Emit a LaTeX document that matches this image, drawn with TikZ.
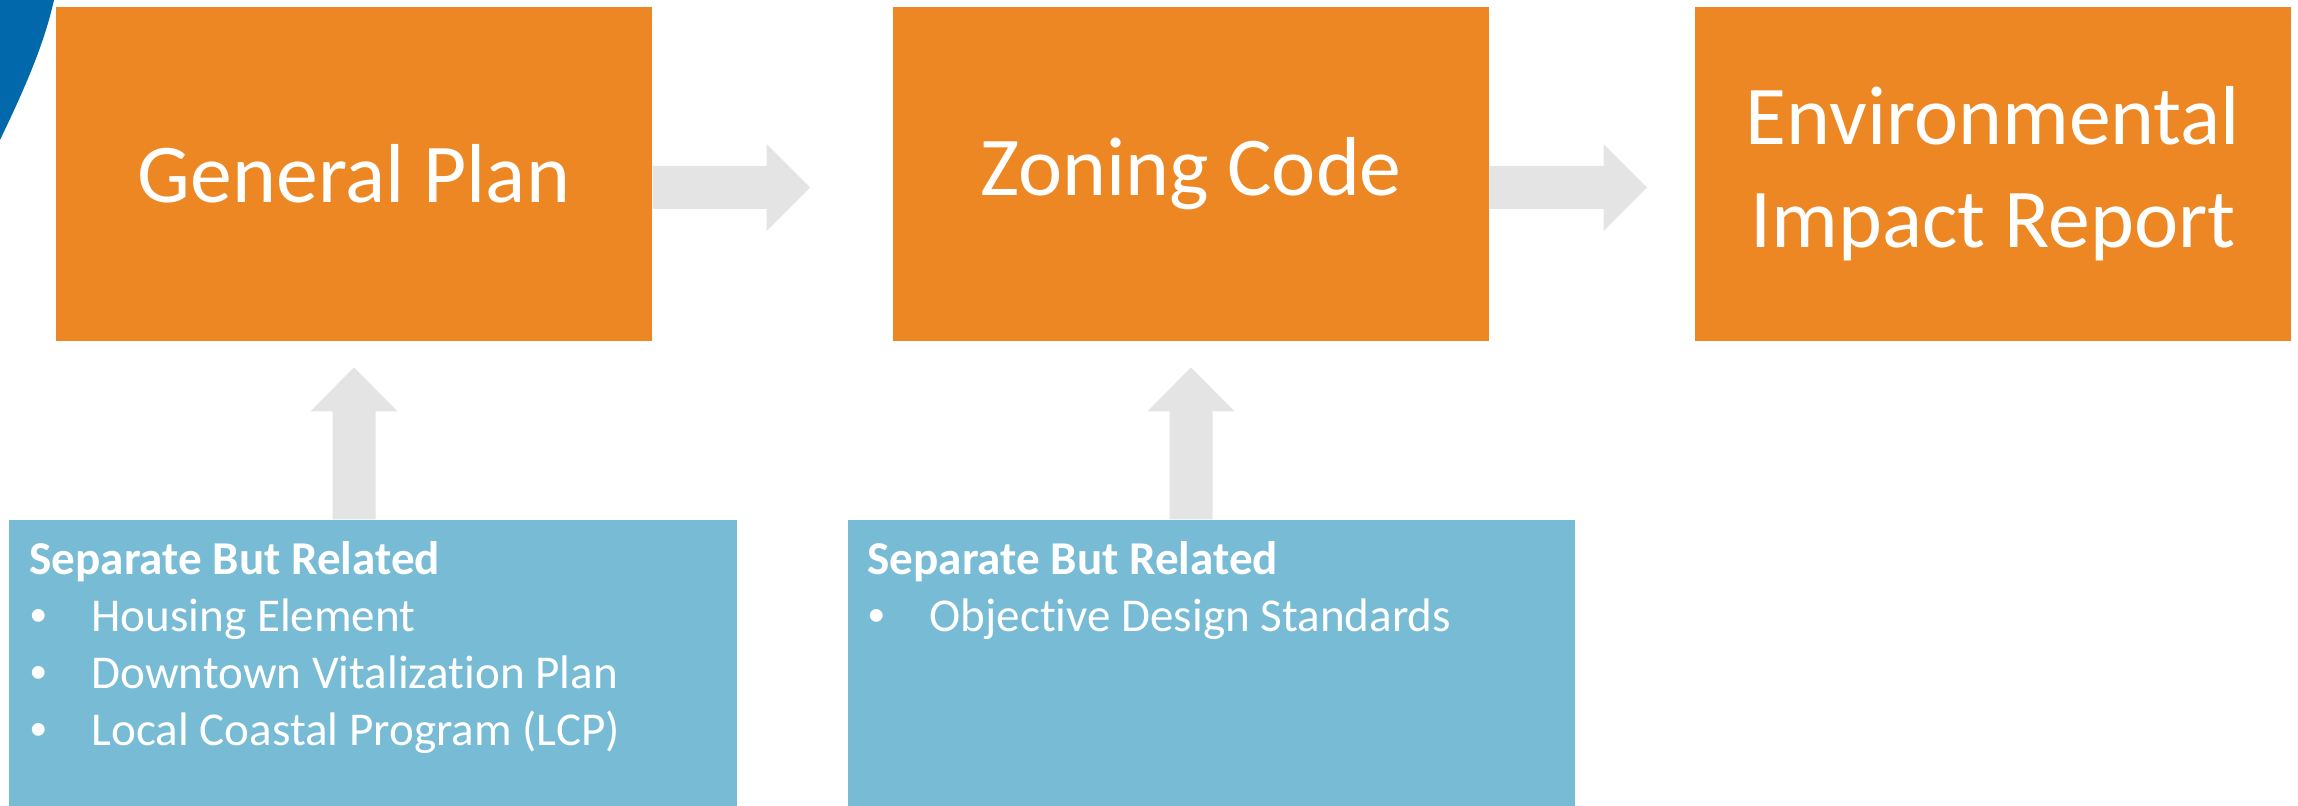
\documentclass[tikz,border=0pt]{standalone}
\usepackage{fontspec}
\setmainfont{Carlito}[Ligatures=NoCommon]
\newfontfamily\bulletfont{Liberation Sans}
\usepackage{tikz}
\usetikzlibrary{calc}
\definecolor{planorange}{HTML}{ED8723}
\definecolor{relblue}{HTML}{77BBD5}
\definecolor{arrowgray}{HTML}{E4E4E4}
\definecolor{slideblue}{HTML}{0068AB}
\newcommand{\tikzArrowRight}[1]{
  \fill[arrowgray] ($(#1.east)+(0,0.08)$) -- ++(1.14,0) -- ++(0,0.22) -- ++(0.435,-0.435) -- ++(-0.435,-0.435) -- ++(0,0.22) -- ++(-1.14,0) -- cycle;
}
\newcommand{\tikzArrowUp}[2]{
  \fill[arrowgray] ($(#2.south |- #1.north)+(-0.215,0)$) -- ++(0,1.08) -- ++(-0.22,0) -- ++(0.435,0.44) -- ++(0.435,-0.44) -- ++(-0.22,0) -- ++(0,-1.08) -- cycle;
}
\newcommand{\relItem}{\makebox[0.61cm][l]{\bulletfont\textbullet}}
\begin{document}
\begin{tikzpicture}[
  planbox/.style={fill=planorange,text=white,inner sep=0pt,minimum width=5.96cm,minimum height=3.34cm,align=center,font=\fontsize{23.8}{29.2}\selectfont},
  relbox/.style={fill=relblue,inner sep=0pt,minimum width=7.27cm,minimum height=2.86cm},
  reltext/.style={text=white,inner sep=0pt,anchor=base west,font=\fontsize{13.4}{16.2}\selectfont}]
  \useasboundingbox (0,0) rectangle (22.98,-8.06);

  \fill[slideblue] (0,0) -- (0.54,0) .. controls (0.44,-0.45) and (0.24,-0.9) .. (0,-1.4) -- cycle;

  \node [planbox] (gp)  at ( 3.54, -1.74) {General Plan};
  \node [planbox] (zc)  at (11.91, -1.74) {Zoning Code};
  \node [planbox] (eir) at (19.93, -1.74) {Environmental\\Impact Report};

  \tikzArrowRight{gp}
  \tikzArrowRight{zc}

  \node [relbox] (sbr1) at ( 3.73, -6.63) {};
  \node [relbox] (sbr2) at (12.11, -6.63) {};

  \tikzArrowUp{sbr1}{gp}
  \tikzArrowUp{sbr2}{zc}

  \node [reltext,font=\fontsize{13.4}{16.2}\selectfont\bfseries] (sbr1h) at ($(sbr1.north west)+(0.20,-0.55)$) {Separate But Related};
  \node [reltext] (sbr1a) at ($(sbr1.north west)+(0.21,-1.12)$) {\relItem Housing Element};
  \node [reltext] (sbr1b) at ($(sbr1.north west)+(0.21,-1.69)$) {\relItem Downtown Vitalization Plan};
  \node [reltext] (sbr1c) at ($(sbr1.north west)+(0.21,-2.26)$) {\relItem Local Coastal Program (LCP)};

  \node [reltext,font=\fontsize{13.4}{16.2}\selectfont\bfseries] (sbr2h) at ($(sbr2.north west)+(0.20,-0.55)$) {Separate But Related};
  \node [reltext] (sbr2a) at ($(sbr2.north west)+(0.21,-1.12)$) {\relItem Objective Design Standards};
\end{tikzpicture}
\end{document}
